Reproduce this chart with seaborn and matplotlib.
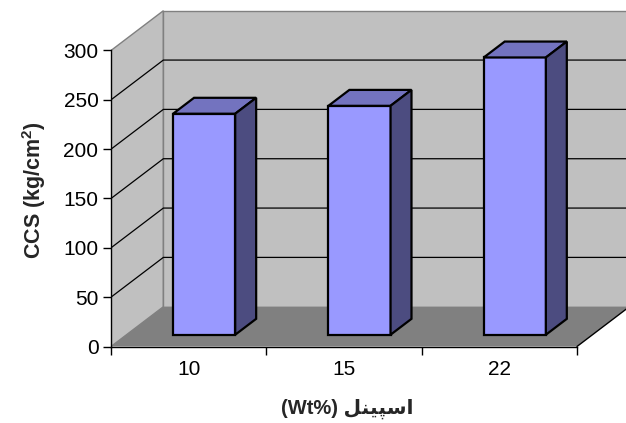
import matplotlib
matplotlib.use("Agg")
import matplotlib.pyplot as plt
from matplotlib.patches import Polygon
from matplotlib.transforms import Affine2D
import seaborn as sns
import pandas as pd

# Data
categories = ["10", "15", "22"]
ccs_values = [224, 232, 281]
y_ticks = [0, 50, 100, 150, 200, 250, 300]

sns.set_style("white")
plt.rcParams["font.family"] = ["Liberation Sans", "DejaVu Sans"]
plt.rcParams["mathtext.fontset"] = "custom"
plt.rcParams["mathtext.rm"] = "Liberation Sans"
plt.rcParams["mathtext.bf"] = "Liberation Sans:bold"

W, H = 626, 423
fig = plt.figure(figsize=(W / 100, H / 100), dpi=100)
ax = fig.add_axes([111 / W, 76.5 / H, 515 / W, 346.5 / H])

# 3-D look: depth offset of the back wall, in data units
DX, DY = 0.337, 40.3
F0, F1 = 0.296, 0.696          # bar front / back position inside the depth
wall_c, floor_c = "#C0C0C0", "#808080"
front_c, top_c, side_c = "#9999FF", "#7373BF", "#4C4C80"

x0, x1 = -0.5, len(categories) - 0.5
ymax = y_ticks[-1]

# walls and floor
ax.add_patch(Polygon([(x0, 0), (x0 + DX, DY), (x0 + DX, ymax + DY), (x0, ymax)],
                     closed=True, fc=wall_c, ec="#808080", lw=1, zorder=0))
ax.add_patch(Polygon([(x0 + DX, DY), (x1 + DX, DY), (x1 + DX, ymax + DY), (x0 + DX, ymax + DY)],
                     closed=True, fc=wall_c, ec="#808080", lw=1, zorder=0))
ax.add_patch(Polygon([(x0, 0), (x1, 0), (x1 + DX, DY), (x0 + DX, DY)],
                     closed=True, fc=floor_c, ec="none", zorder=0.5))
ax.plot([x1, x1 + DX], [0, DY], color="black", lw=1, zorder=1, clip_on=False)

# gridlines across left and back walls
for v in y_ticks[1:-1]:
    ax.plot([x0, x0 + DX, x1 + DX], [v, v + DY, v + DY], color="black", lw=0.9, zorder=1)

# bar fronts with seaborn, then pushed into the depth of the floor
df = pd.DataFrame({"cat": categories, "val": ccs_values})
sns.barplot(data=df, x="cat", y="val", width=0.4, color=front_c, saturation=1,
            edgecolor="black", linewidth=1.6, ax=ax, zorder=3)
shift = Affine2D().translate(F0 * DX, F0 * DY) + ax.transData
for p in list(ax.patches):
    if p.get_zorder() != 3:
        continue
    p.set_transform(shift)
    p.set_facecolor(front_c)
    bx, bw, bh = p.get_x(), p.get_width(), p.get_height()
    fl, fr = bx + F0 * DX, bx + bw + F0 * DX
    bl, br = bx + F1 * DX, bx + bw + F1 * DX
    yf, yb = F0 * DY, F1 * DY
    ax.add_patch(Polygon([(fl, bh + yf), (fr, bh + yf), (br, bh + yb), (bl, bh + yb)],
                         closed=True, fc=top_c, ec="black", lw=1.6, zorder=3,
                         joinstyle="miter"))
    ax.add_patch(Polygon([(fr, yf), (br, yb), (br, bh + yb), (fr, bh + yf)],
                         closed=True, fc=side_c, ec="black", lw=1.6, zorder=3,
                         joinstyle="miter"))

ax.set_xlim(x0, x0 + 515 / 155.33)
ax.set_ylim(0, 346.5 / 0.9867)

for s in ["top", "right"]:
    ax.spines[s].set_visible(False)
ax.spines["left"].set_bounds(0, ymax)
ax.spines["bottom"].set_bounds(x0, x1)
for s in ["left", "bottom"]:
    ax.spines[s].set_color("black")
    ax.spines[s].set_linewidth(1)
    ax.spines[s].set_zorder(4)

ax.set_yticks(y_ticks)
ax.set_yticklabels([str(t) for t in y_ticks])
ax.set_xticks([x0 + i for i in range(len(categories) + 1)])
ax.set_xticklabels([])
ax.set_xticks(range(len(categories)), minor=True)
ax.set_xticklabels(categories, minor=True)
ax.tick_params(axis="both", which="major", direction="out", length=6, width=1,
               color="black", labelsize=15, labelcolor="black", pad=3,
               left=True, bottom=True)
ax.tick_params(axis="x", which="minor", length=0, labelsize=15, labelcolor="black", pad=10)

ax.set_ylabel(r"CCS (kg/cm$^{\mathbf{2}}$)", fontsize=15.5, fontweight="bold")
ax.yaxis.set_label_coords(-0.122, 0.452)
# Persian label written in contextual (presentation) forms, visual order
persian = "\uFEDE\uFEE8\uFBFF\uFB59\uFEB3\uFE8D"
ax.set_xlabel("(Wt%) " + persian, fontsize=14.5, fontweight="bold",
              family=["Liberation Sans", "DejaVu Sans"])
ax.xaxis.set_label_coords(0.458, -0.152)

fig.savefig("out.png", dpi=100)
